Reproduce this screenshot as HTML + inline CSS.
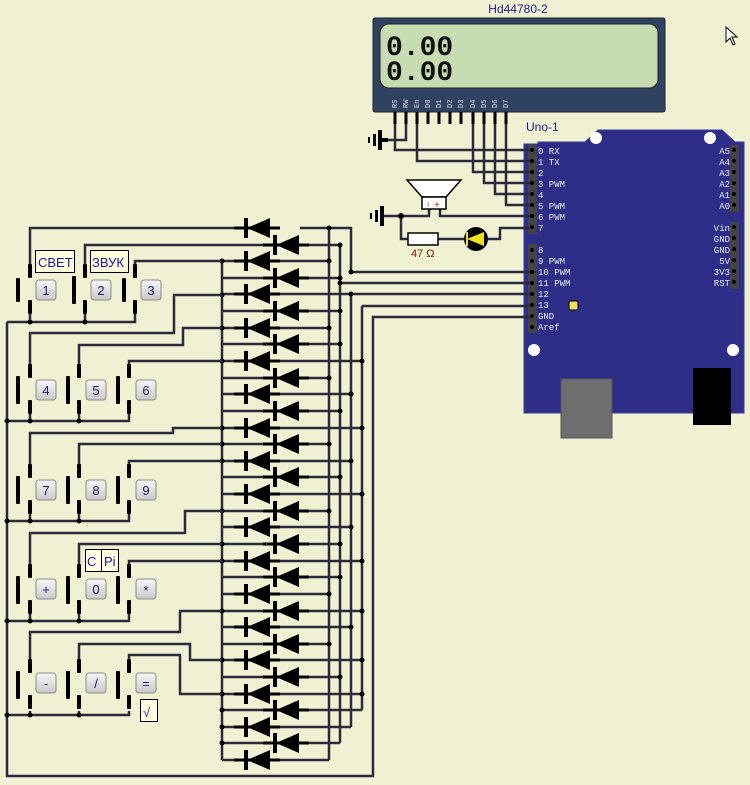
<!DOCTYPE html>
<html><head><meta charset="utf-8"><style>
html,body{margin:0;padding:0;background:#f0f0d2;}
svg{display:block;font-family:"Liberation Sans",sans-serif;}
</style></head><body>
<svg width="750" height="785" viewBox="0 0 750 785" xmlns="http://www.w3.org/2000/svg">
<defs>
<symbol id="d" overflow="visible">
<line x1="-12" y1="0" x2="34" y2="0" stroke="#000" stroke-width="3"/>
<rect x="-2" y="-10" width="4" height="20" fill="#000"/>
<polygon points="1,0 24,-10 24,10" fill="#000"/>
</symbol>
<linearGradient id="bg" x1="0" y1="0" x2="0" y2="1"><stop offset="0" stop-color="#f8f8f8"/><stop offset="1" stop-color="#c8c8c8"/></linearGradient>
</defs>
<rect width="750" height="785" fill="#f0f0d2"/>

<!-- LCD -->
<text x="518" y="13" text-anchor="middle" font-size="12" fill="#1a1a8c">Hd44780-2</text>
<rect x="373" y="18" width="292" height="94" rx="2" fill="#2f4261" stroke="#222" stroke-width="1"/>
<rect x="380" y="24" width="278" height="64" rx="9" fill="#c8dcb2" stroke="#222" stroke-width="1"/>
<text x="386" y="55" font-family="Liberation Mono,monospace" font-weight="bold" font-size="28" fill="#111">0.00</text>
<text x="386" y="80" font-family="Liberation Mono,monospace" font-weight="bold" font-size="28" fill="#111">0.00</text>
<g font-size="7" fill="#ddd" font-family="Liberation Mono,monospace">
<text transform="translate(397,108) rotate(-90)">RS</text>
<text transform="translate(408,108) rotate(-90)">RW</text>
<text transform="translate(419,108) rotate(-90)">En</text>
<text transform="translate(430,108) rotate(-90)">D0</text>
<text transform="translate(441,108) rotate(-90)">D1</text>
<text transform="translate(452,108) rotate(-90)">D2</text>
<text transform="translate(463,108) rotate(-90)">D3</text>
<text transform="translate(475,108) rotate(-90)">D4</text>
<text transform="translate(486,108) rotate(-90)">D5</text>
<text transform="translate(497,108) rotate(-90)">D6</text>
<text transform="translate(508,108) rotate(-90)">D7</text>
</g>
<g stroke="#000" stroke-width="3">
<line x1="395" y1="112" x2="395" y2="124"/><line x1="406" y1="112" x2="406" y2="124"/>
<line x1="417" y1="112" x2="417" y2="124"/><line x1="428" y1="112" x2="428" y2="124"/>
<line x1="439" y1="112" x2="439" y2="124"/><line x1="450" y1="112" x2="450" y2="124"/>
<line x1="461" y1="112" x2="461" y2="124"/><line x1="473" y1="112" x2="473" y2="124"/>
<line x1="484" y1="112" x2="484" y2="124"/><line x1="495" y1="112" x2="495" y2="124"/>
<line x1="506" y1="112" x2="506" y2="124"/>
</g>

<!-- Uno board -->
<text x="526" y="131" font-size="12" fill="#1a1a8c">Uno-1</text>
<polygon points="524,144 538,144 538,142 585,142 598,130 722,130 735,142 744,142 744,413 524,413" fill="#2e2e88" stroke="#3a3a9a"/>
<circle cx="596" cy="138" r="6" fill="#fff"/><circle cx="710" cy="138" r="6" fill="#fff"/>
<circle cx="534" cy="350" r="6" fill="#fff"/><circle cx="733" cy="350" r="6" fill="#fff"/>
<rect x="561" y="379" width="51" height="59" fill="#6e6e6e" stroke="#555"/>
<rect x="693" y="368" width="38" height="57" fill="#000"/>
<rect x="569" y="301" width="9" height="9" rx="2" fill="#f0e060" stroke="#000"/>
<rect x="528" y="145" width="9" height="89" fill="#444"/>
<rect x="528" y="244" width="9" height="89" fill="#444"/>
<rect x="730" y="145" width="9" height="67" fill="#444"/>
<rect x="730" y="222" width="9" height="67" fill="#444"/>
<g font-family="Liberation Mono,monospace" font-size="9" fill="#e8e8e8">
<text x="538" y="154">0 RX</text><text x="538" y="165">1 TX</text><text x="538" y="176">2</text>
<text x="538" y="187">3 PWM</text><text x="538" y="198">4</text><text x="538" y="209">5 PWM</text>
<text x="538" y="220">6 PWM</text><text x="538" y="231">7</text>
<text x="538" y="253">8</text><text x="538" y="264">9 PWM</text><text x="538" y="275">10 PWM</text>
<text x="538" y="286">11 PWM</text><text x="538" y="297">12</text><text x="538" y="308">13</text>
<text x="538" y="319">GND</text><text x="538" y="330">Aref</text>
<g text-anchor="end">
<text x="730" y="154">A5</text><text x="730" y="165">A4</text><text x="730" y="176">A3</text>
<text x="730" y="187">A2</text><text x="730" y="198">A1</text><text x="730" y="209">A0</text>
<text x="730" y="231">Vin</text><text x="730" y="242">GND</text><text x="730" y="253">GND</text>
<text x="730" y="264">5V</text><text x="730" y="275">3V3</text><text x="730" y="286">RST</text>
</g></g>
<g fill="#000">
<circle cx="532" cy="150" r="2"/><circle cx="532" cy="161" r="2"/><circle cx="532" cy="172" r="2"/><circle cx="532" cy="183" r="2"/>
<circle cx="532" cy="194" r="2"/><circle cx="532" cy="205" r="2"/><circle cx="532" cy="216" r="2"/><circle cx="532" cy="227" r="2"/>
<circle cx="532" cy="250" r="2"/><circle cx="532" cy="261" r="2"/><circle cx="532" cy="272" r="2"/><circle cx="532" cy="283" r="2"/>
<circle cx="532" cy="294" r="2"/><circle cx="532" cy="305" r="2"/><circle cx="532" cy="316" r="2"/><circle cx="532" cy="327" r="2"/>
<circle cx="734" cy="150" r="2"/><circle cx="734" cy="161" r="2"/><circle cx="734" cy="172" r="2"/><circle cx="734" cy="183" r="2"/>
<circle cx="734" cy="194" r="2"/><circle cx="734" cy="205" r="2"/><circle cx="734" cy="227" r="2"/><circle cx="734" cy="238" r="2"/>
<circle cx="734" cy="249" r="2"/><circle cx="734" cy="260" r="2"/><circle cx="734" cy="271" r="2"/><circle cx="734" cy="282" r="2"/>
</g>

<!-- LCD & speaker wiring -->
<g fill="none" stroke="#2a2a3a" stroke-width="2.5">
<polyline points="395,124 395,150 530,150"/>
<polyline points="406,124 406,140 380,140"/>
<polyline points="417,124 417,161 530,161"/>
<polyline points="473,124 473,172 530,172"/>
<polyline points="484,124 484,183 530,183"/>
<polyline points="495,124 495,194 530,194"/>
<polyline points="506,124 506,205 530,205"/>
<polyline points="384,216 429,216 429,208"/>
<polyline points="440,208 440,216 530,216"/>
<polyline points="401,216 401,239 408,239"/>
<line x1="438" y1="239" x2="464" y2="239"/>
<polyline points="488,239 500,239 500,228 530,228"/>
</g>
<g fill="#000">
<rect x="378" y="130" width="4" height="20"/><rect x="373" y="134" width="3" height="12"/><rect x="368" y="137" width="2" height="6"/>
<rect x="380" y="138" width="8" height="4"/>
<rect x="380" y="206" width="4" height="20"/><rect x="375" y="210" width="3" height="12"/><rect x="370" y="213" width="2" height="6"/>
<circle cx="401" cy="216" r="3"/>
</g>
<polygon points="407,180 461,180 446,197 422,197" fill="#fff" stroke="#000" stroke-width="1.5"/>
<rect x="422" y="197" width="24" height="12" fill="#fff" stroke="#000" stroke-width="1.5"/>
<text x="427" y="207" font-size="8" fill="#3070c0">ı</text>
<text x="434" y="208" font-size="10" fill="#e02000">+</text>
<rect x="408" y="233" width="30" height="12" fill="#fff" stroke="#000" stroke-width="1.5"/>
<text x="411" y="257" font-size="11" fill="#802000">47 Ω</text>
<circle cx="476" cy="239" r="12" fill="#000"/>
<polygon points="467,239 484,232 484,246" fill="#f0e020"/>
<rect x="466" y="232" width="2" height="14" fill="#f0e020"/>

<polygon points="726,27 726,42 730,38 733,45 735,44 732,37 737,37" fill="#fff" stroke="#000" stroke-width="1"/>

<!-- buses -->
<g fill="none" stroke="#2a2a3a" stroke-width="2.5">
<line x1="329" y1="228" x2="329" y2="760"/>
<line x1="340" y1="245" x2="340" y2="743"/>
<line x1="351" y1="294" x2="351" y2="727"/>
<line x1="362" y1="306" x2="362" y2="710"/>
<polyline points="300,228 351,228 351,272 530,272"/>
<polyline points="309,245 340,245"/>
<line x1="340" y1="283" x2="530" y2="283"/>
<line x1="351" y1="294" x2="530" y2="294"/>
<line x1="362" y1="306" x2="530" y2="306"/>
<polyline points="530,317 373,317 373,776 7,776 7,322"/>
<line x1="222" y1="261" x2="222" y2="760"/>
</g>

<g fill="none" stroke="#2a2a3a" stroke-width="2.5">
<line x1="222" y1="261" x2="329" y2="261"/><line x1="222" y1="278" x2="340" y2="278"/>
<line x1="222" y1="294" x2="351" y2="294"/><line x1="222" y1="311" x2="340" y2="311"/>
<line x1="222" y1="328" x2="329" y2="328"/><line x1="222" y1="344" x2="340" y2="344"/>
<line x1="222" y1="361" x2="362" y2="361"/><line x1="222" y1="378" x2="329" y2="378"/>
<line x1="222" y1="394" x2="351" y2="394"/><line x1="222" y1="411" x2="340" y2="411"/>
<line x1="222" y1="428" x2="362" y2="428"/><line x1="222" y1="444" x2="329" y2="444"/>
<line x1="222" y1="461" x2="351" y2="461"/><line x1="222" y1="477" x2="340" y2="477"/>
<line x1="222" y1="494" x2="362" y2="494"/><line x1="222" y1="511" x2="329" y2="511"/>
<line x1="222" y1="527" x2="351" y2="527"/><line x1="222" y1="544" x2="340" y2="544"/>
<line x1="222" y1="561" x2="362" y2="561"/><line x1="222" y1="577" x2="340" y2="577"/>
<line x1="222" y1="594" x2="329" y2="594"/><line x1="222" y1="611" x2="362" y2="611"/>
<line x1="222" y1="627" x2="351" y2="627"/><line x1="222" y1="644" x2="329" y2="644"/>
<line x1="222" y1="660" x2="362" y2="660"/><line x1="222" y1="677" x2="340" y2="677"/>
<line x1="222" y1="694" x2="362" y2="694"/><line x1="222" y1="710" x2="362" y2="710"/>
<line x1="222" y1="727" x2="351" y2="727"/><line x1="222" y1="743" x2="340" y2="743"/>
<line x1="222" y1="760" x2="329" y2="760"/>
</g>
<g fill="#000">
<circle cx="329" cy="228" r="2.5"/><circle cx="340" cy="245" r="2.5"/>
<circle cx="329" cy="261" r="2.5"/><circle cx="340" cy="278" r="2.5"/><circle cx="351" cy="294" r="2.5"/>
<circle cx="340" cy="311" r="2.5"/><circle cx="329" cy="328" r="2.5"/><circle cx="340" cy="344" r="2.5"/>
<circle cx="362" cy="361" r="2.5"/><circle cx="329" cy="378" r="2.5"/><circle cx="351" cy="394" r="2.5"/>
<circle cx="340" cy="411" r="2.5"/><circle cx="362" cy="428" r="2.5"/><circle cx="329" cy="444" r="2.5"/>
<circle cx="351" cy="461" r="2.5"/><circle cx="340" cy="477" r="2.5"/><circle cx="362" cy="494" r="2.5"/>
<circle cx="329" cy="511" r="2.5"/><circle cx="351" cy="527" r="2.5"/><circle cx="340" cy="544" r="2.5"/>
<circle cx="362" cy="561" r="2.5"/><circle cx="340" cy="577" r="2.5"/><circle cx="329" cy="594" r="2.5"/>
<circle cx="362" cy="611" r="2.5"/><circle cx="351" cy="627" r="2.5"/><circle cx="329" cy="644" r="2.5"/>
<circle cx="362" cy="660" r="2.5"/><circle cx="340" cy="677" r="2.5"/><circle cx="362" cy="694" r="2.5"/>
<circle cx="340" cy="283" r="2.5"/><circle cx="351" cy="272" r="2.5"/>
<circle cx="222" cy="261" r="2.5"/><circle cx="222" cy="295" r="2.5"/><circle cx="222" cy="328" r="2.5"/>
<circle cx="222" cy="361" r="2.5"/><circle cx="222" cy="428" r="2.5"/><circle cx="222" cy="444" r="2.5"/>
<circle cx="222" cy="461" r="2.5"/><circle cx="222" cy="511" r="2.5"/><circle cx="222" cy="544" r="2.5"/>
<circle cx="222" cy="561" r="2.5"/><circle cx="222" cy="611" r="2.5"/><circle cx="222" cy="660" r="2.5"/>
<circle cx="222" cy="694" r="2.5"/><circle cx="222" cy="710" r="2.5"/><circle cx="222" cy="727" r="2.5"/>
<circle cx="222" cy="743" r="2.5"/>
</g>

<use href="#d" x="246" y="228"/><use href="#d" x="275" y="245"/>
<use href="#d" x="246" y="261"/><use href="#d" x="275" y="278"/>
<use href="#d" x="246" y="294"/><use href="#d" x="275" y="311"/>
<use href="#d" x="246" y="328"/><use href="#d" x="275" y="344"/>
<use href="#d" x="246" y="361"/><use href="#d" x="275" y="378"/>
<use href="#d" x="246" y="394"/><use href="#d" x="275" y="411"/>
<use href="#d" x="246" y="428"/><use href="#d" x="275" y="444"/>
<use href="#d" x="246" y="461"/><use href="#d" x="275" y="477"/>
<use href="#d" x="246" y="494"/><use href="#d" x="275" y="511"/>
<use href="#d" x="246" y="527"/><use href="#d" x="275" y="544"/>
<use href="#d" x="246" y="561"/><use href="#d" x="275" y="577"/>
<use href="#d" x="246" y="594"/><use href="#d" x="275" y="611"/>
<use href="#d" x="246" y="627"/><use href="#d" x="275" y="644"/>
<use href="#d" x="246" y="660"/><use href="#d" x="275" y="677"/>
<use href="#d" x="246" y="694"/><use href="#d" x="275" y="710"/>
<use href="#d" x="246" y="727"/><use href="#d" x="275" y="743"/>
<use href="#d" x="246" y="760"/>

<g fill="none" stroke="#2a2a3a" stroke-width="2.5">
<polyline points="30,266 30,228 234,228"/>
<polyline points="85,266 85,245 263,245"/>
<polyline points="135,266 135,261 222,261"/>
<polyline points="30,366 30,333 174,333 174,295 222,295"/>
<polyline points="79,366 79,345 183,345 183,328 222,328"/>
<polyline points="129,366 129,361 222,361"/>
<polyline points="30,466 30,433 173,433 173,428 222,428"/>
<polyline points="79,466 79,444 222,444"/>
<polyline points="129,466 129,461 222,461"/>
<polyline points="30,566 30,533 185,533 185,511 222,511"/>
<polyline points="79,566 79,544 222,544"/>
<polyline points="129,566 129,561 222,561"/>
<polyline points="30,663 30,632 180,632 180,611 222,611"/>
<polyline points="79,663 79,644 190,644 190,660 222,660"/>
<polyline points="129,663 129,655 180,655 180,694 222,694"/>
<polyline points="7,322 135,322 135,314"/>
<line x1="30" y1="314" x2="30" y2="322"/><line x1="85" y1="314" x2="85" y2="322"/>
<polyline points="7,421 129,421 129,414"/><line x1="30" y1="414" x2="30" y2="421"/><line x1="79" y1="414" x2="79" y2="421"/>
<polyline points="7,521 129,521 129,514"/><line x1="30" y1="514" x2="30" y2="521"/><line x1="79" y1="514" x2="79" y2="521"/>
<polyline points="7,621 129,621 129,614"/><line x1="30" y1="614" x2="30" y2="621"/><line x1="79" y1="614" x2="79" y2="621"/>
<polyline points="7,715 129,715 129,711"/><line x1="30" y1="711" x2="30" y2="715"/><line x1="79" y1="711" x2="79" y2="715"/>
</g>
<g fill="#000">
<circle cx="30" cy="322" r="2.5"/><circle cx="85" cy="322" r="2.5"/>
<circle cx="7" cy="421" r="2.5"/><circle cx="30" cy="421" r="2.5"/><circle cx="79" cy="421" r="2.5"/>
<circle cx="7" cy="521" r="2.5"/><circle cx="30" cy="521" r="2.5"/><circle cx="79" cy="521" r="2.5"/>
<circle cx="7" cy="621" r="2.5"/><circle cx="30" cy="621" r="2.5"/><circle cx="79" cy="621" r="2.5"/>
<circle cx="7" cy="715" r="2.5"/><circle cx="30" cy="715" r="2.5"/><circle cx="79" cy="715" r="2.5"/>
</g>

<g fill="#000">
<rect x="16" y="278" width="4" height="24" rx="1"/><rect x="72" y="276" width="4" height="28" rx="1"/><rect x="122" y="278" width="4" height="24" rx="1"/>
<rect x="28" y="264" width="4" height="14" rx="1"/><rect x="28" y="300" width="4" height="14" rx="1"/>
<rect x="83" y="264" width="4" height="14" rx="1"/><rect x="83" y="300" width="4" height="14" rx="1"/>
<rect x="133" y="264" width="4" height="14" rx="1"/><rect x="133" y="300" width="4" height="14" rx="1"/>
<rect x="16" y="376" width="4" height="28" rx="1"/><rect x="66" y="376" width="4" height="28" rx="1"/><rect x="116" y="376" width="4" height="28" rx="1"/>
<rect x="28" y="364" width="4" height="14" rx="1"/><rect x="28" y="400" width="4" height="14" rx="1"/>
<rect x="77" y="364" width="4" height="14" rx="1"/><rect x="77" y="400" width="4" height="14" rx="1"/>
<rect x="127" y="364" width="4" height="14" rx="1"/><rect x="127" y="400" width="4" height="14" rx="1"/>
<rect x="16" y="476" width="4" height="28" rx="1"/><rect x="66" y="476" width="4" height="28" rx="1"/><rect x="116" y="476" width="4" height="28" rx="1"/>
<rect x="28" y="464" width="4" height="14" rx="1"/><rect x="28" y="500" width="4" height="14" rx="1"/>
<rect x="77" y="464" width="4" height="14" rx="1"/><rect x="77" y="500" width="4" height="14" rx="1"/>
<rect x="127" y="464" width="4" height="14" rx="1"/><rect x="127" y="500" width="4" height="14" rx="1"/>
<rect x="16" y="576" width="4" height="28" rx="1"/><rect x="66" y="576" width="4" height="28" rx="1"/><rect x="116" y="576" width="4" height="28" rx="1"/>
<rect x="28" y="564" width="4" height="14" rx="1"/><rect x="28" y="600" width="4" height="14" rx="1"/>
<rect x="77" y="564" width="4" height="14" rx="1"/><rect x="77" y="600" width="4" height="14" rx="1"/>
<rect x="127" y="564" width="4" height="14" rx="1"/><rect x="127" y="600" width="4" height="14" rx="1"/>
<rect x="16" y="671" width="4" height="28" rx="1"/><rect x="66" y="671" width="4" height="28" rx="1"/><rect x="116" y="671" width="4" height="28" rx="1"/>
<rect x="28" y="659" width="4" height="14" rx="1"/><rect x="28" y="695" width="4" height="14" rx="1"/>
<rect x="77" y="659" width="4" height="14" rx="1"/><rect x="77" y="695" width="4" height="14" rx="1"/>
<rect x="127" y="659" width="4" height="14" rx="1"/><rect x="127" y="695" width="4" height="14" rx="1"/>
</g>

<g stroke="#8a8a8a" stroke-width="1" fill="url(#bg)">
<rect x="36" y="280" width="20" height="20" rx="3"/><rect x="91" y="280" width="20" height="20" rx="3"/><rect x="141" y="280" width="20" height="20" rx="3"/>
<rect x="36" y="380" width="20" height="20" rx="3"/><rect x="86" y="380" width="20" height="20" rx="3"/><rect x="136" y="380" width="20" height="20" rx="3"/>
<rect x="36" y="480" width="20" height="20" rx="3"/><rect x="86" y="480" width="20" height="20" rx="3"/><rect x="136" y="480" width="20" height="20" rx="3"/>
<rect x="36" y="579" width="20" height="20" rx="3"/><rect x="86" y="579" width="20" height="20" rx="3"/><rect x="136" y="579" width="20" height="20" rx="3"/>
<rect x="36" y="673" width="20" height="20" rx="3"/><rect x="86" y="673" width="20" height="20" rx="3"/><rect x="136" y="673" width="20" height="20" rx="3"/>
</g>
<g font-size="13" fill="#1a1a6a" text-anchor="middle">
<text x="46" y="295">1</text><text x="101" y="295">2</text><text x="151" y="295">3</text>
<text x="46" y="395">4</text><text x="96" y="395">5</text><text x="146" y="395">6</text>
<text x="46" y="495">7</text><text x="96" y="495">8</text><text x="146" y="495">9</text>
<text x="46" y="594">+</text><text x="96" y="594">0</text><text x="146" y="595">*</text>
<text x="46" y="688">-</text><text x="96" y="688">/</text><text x="146" y="688">=</text>
</g>
<g stroke="#000" stroke-width="1" fill="#fffce0">
<rect x="35.5" y="250.5" width="39" height="22"/><rect x="90.5" y="250.5" width="38" height="22"/>
<rect x="85.5" y="549.5" width="16" height="22"/><rect x="101.5" y="549.5" width="17" height="22"/>
<rect x="140.5" y="699.5" width="17" height="22"/>
</g>
<g font-size="13" fill="#1a1a9a">
<text x="38" y="267">СВЕТ</text><text x="92" y="267">ЗВУК</text>
<text x="87" y="566">C</text><text x="104" y="566">Pi</text>
<text x="143" y="717">√</text>
</g>
</svg>
</body></html>
